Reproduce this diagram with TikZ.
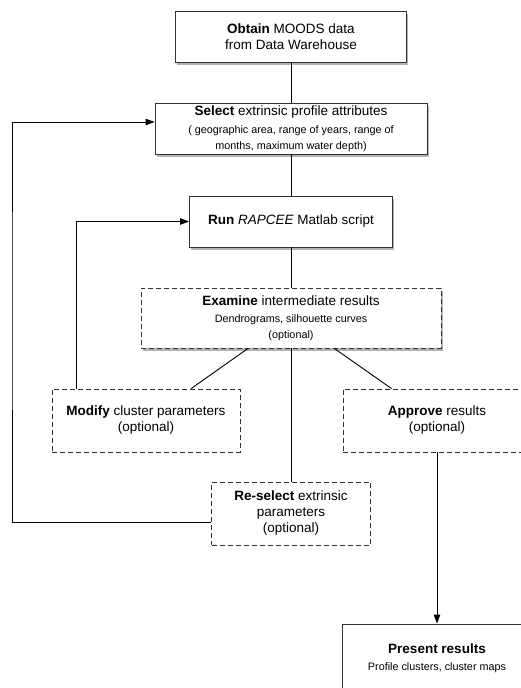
\documentclass[tikz,border=0pt]{standalone}
\usepackage{fontspec}
\setmainfont{Liberation Sans}
\usetikzlibrary{arrows.meta,shadows}

\newcommand{\subtext}{\fontsize{10.8}{13}\selectfont}

\begin{document}
\begin{tikzpicture}[x=1pt,y=-1pt,line width=0.9pt,
  box/.style={draw=black!80,fill=white,align=center,inner sep=0pt,
    font=\fontsize{13.5}{16}\selectfont},
  boxshadow/.style={drop shadow={shadow xshift=1.5pt,shadow yshift=-3pt,fill=black!60,opacity=0.5}},
  solidbox/.style={box,boxshadow},
  optbox/.style={box,dash pattern=on 5pt off 3pt},
  flow/.style={-{Triangle[length=9pt,width=6.5pt]}}]
  \useasboundingbox (0,0) rectangle (521,688);

  % main steps
  \node[solidbox,minimum width=231pt,minimum height=51pt] (obtain) at (291,36.5)
    {\textbf{Obtain} MOODS data\\from Data Warehouse};
  \node[solidbox,minimum width=272pt,minimum height=51pt] (select) at (291,128.5)
    {\textbf{Select} extrinsic profile attributes\\[1.5pt]\subtext( geographic area, range of years, range of\\\subtext months, maximum water depth)};
  \node[solidbox,minimum width=203pt,minimum height=51pt] (run) at (291,221.5)
    {\textbf{Run} \textit{RAPCEE} Matlab script};
  \node[optbox,boxshadow,minimum width=300pt,minimum height=60pt] (examine) at (291,318)
    {\textbf{Examine} intermediate results\\[1pt]\subtext Dendrograms, silhouette curves\\\subtext (optional)};

  % optional steps
  \node[optbox,minimum width=188pt,minimum height=63pt] (modify) at (146,420.5)
    {\textbf{Modify} cluster parameters\\(optional)};
  \node[optbox,minimum width=188pt,minimum height=63pt] (approve) at (437,420.5)
    {\textbf{Approve} results\\(optional)};
  \node[optbox,minimum width=159pt,minimum height=63pt] (reselect) at (291,513.5)
    {\textbf{Re-select} extrinsic\\parameters\\(optional)};
  \node[solidbox,minimum width=190pt,minimum height=68pt] (present) at (437,658)
    {\textbf{Present results}\\[1pt]\subtext Profile clusters, cluster maps};

  \draw (obtain) -- (select);
  \draw (select) -- (run);
  \draw (run) -- (examine);
  \draw (examine) -- (modify);
  \draw (examine) -- (approve);
  \draw (examine) -- (reselect);
  \draw[flow] (approve) -- (present);

  % loops back
  \coordinate (modloop) at (76,300);
  \coordinate (selloop) at (12,300);
  \draw[flow] (modloop |- modify.north) |- (run.west);
  \draw[flow] ([yshift=-8.5pt]reselect.west) -| (selloop) |- ([yshift=6.5pt]select.west);
\end{tikzpicture}
\end{document}
